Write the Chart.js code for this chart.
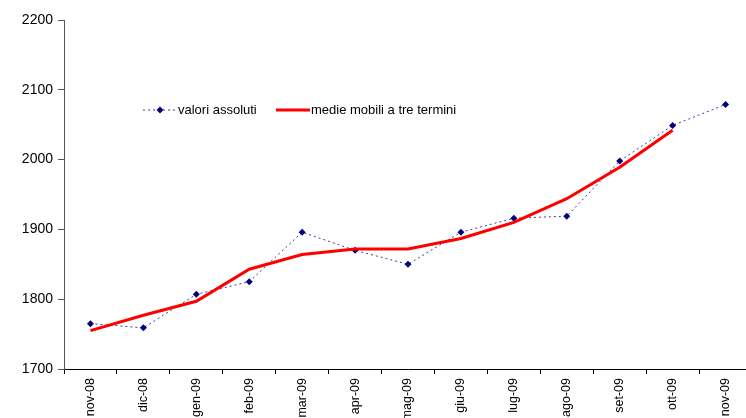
<!DOCTYPE html>
<html>
<head>
<meta charset="utf-8">
<script src="https://cdn.jsdelivr.net/npm/chart.js@4"></script>
<style>
  html, body { margin: 0; padding: 0; background: #fff; overflow: hidden; }
  #wrap { position: relative; width: 756px; height: 418px; }
</style>
</head>
<body>
<div id="wrap"><canvas id="grafico" width="756" height="418"></canvas></div>
<script>
const mesi = ['nov-08', 'dic-08', 'gen-09', 'feb-09', 'mar-09', 'apr-09', 'mag-09', 'giu-09', 'lug-09', 'ago-09', 'set-09', 'ott-09', 'nov-09'];
const valoriAssoluti = [1765, 1759, 1807, 1825, 1896, 1870, 1850, 1896, 1916, 1919, 1998, 2049, 2079];
const medieMobili = [1755, 1777, 1797, 1843, 1864, 1872, 1872, 1887, 1910, 1944, 1989, 2042, null];
const yMin = 1700, yMax = 2200, yStep = 100;

// legenda disegnata dentro l'area del grafico
const legendaInterna = {
  id: 'legendaInterna',
  afterDraw(chart) {
    const ctx = chart.ctx;
    const y = 110;
    ctx.save();
    ctx.strokeStyle = '#3a3aa0';
    ctx.lineWidth = 1;
    ctx.setLineDash([2, 3]);
    ctx.beginPath(); ctx.moveTo(143, y); ctx.lineTo(177, y); ctx.stroke();
    ctx.setLineDash([]);
    ctx.fillStyle = '#000080';
    ctx.beginPath();
    ctx.moveTo(160, y - 3.5); ctx.lineTo(163.5, y); ctx.lineTo(160, y + 3.5); ctx.lineTo(156.5, y);
    ctx.closePath(); ctx.fill();
    ctx.strokeStyle = '#ff0000';
    ctx.lineWidth = 3;
    ctx.beginPath(); ctx.moveTo(276, y); ctx.lineTo(310, y); ctx.stroke();
    ctx.fillStyle = '#000';
    ctx.font = '13px "Liberation Sans", Arial, sans-serif';
    ctx.textBaseline = 'middle';
    ctx.fillText('valori assoluti', 178, y);
    ctx.fillText('medie mobili a tre termini', 311, y);
    ctx.restore();
  }
};

new Chart(document.getElementById('grafico'), {
  type: 'line',
  data: {
    labels: mesi,
    datasets: [
      {
        label: 'medie mobili a tre termini',
        data: medieMobili,
        borderColor: '#ff0000',
        borderWidth: 3,
        pointRadius: 0,
        tension: 0,
        spanGaps: false
      },
      {
        label: 'valori assoluti',
        data: valoriAssoluti,
        borderColor: '#3a3aa0',
        borderWidth: 1,
        borderDash: [2, 3],
        pointStyle: 'rectRot',
        pointRadius: 3.5,
        pointBackgroundColor: '#000080',
        pointBorderColor: '#000080',
        pointBorderWidth: 0,
        tension: 0
      }
    ]
  },
  options: {
    responsive: false,
    animation: false,
    devicePixelRatio: 1,
    layout: { padding: { top: 20, right: 0, left: 0, bottom: 0 } },
    plugins: { legend: { display: false }, tooltip: { enabled: false } },
    scales: {
      x: {
        offset: true,
        afterFit: s => { s.height = 49; },
        grid: { drawOnChartArea: false, drawTicks: true, tickLength: 5, color: '#000', offset: true },
        border: { color: '#000', width: 1 },
        ticks: {
          minRotation: 90, maxRotation: 90, autoSkip: false,
          color: '#000', padding: 4,
          font: { family: '"Liberation Sans", Arial, sans-serif', size: 12.5 }
        }
      },
      y: {
        min: yMin, max: yMax,
        afterFit: s => { s.width = 64; },
        grid: { drawOnChartArea: false, drawTicks: true, tickLength: 6, color: '#555' },
        border: { color: '#555', width: 1 },
        ticks: {
          stepSize: yStep, autoSkip: false,
          callback: v => String(v),
          color: '#000', padding: 5,
          font: { family: '"Liberation Sans", Arial, sans-serif', size: 14 }
        }
      }
    }
  },
  plugins: [legendaInterna]
});
</script>
</body>
</html>
